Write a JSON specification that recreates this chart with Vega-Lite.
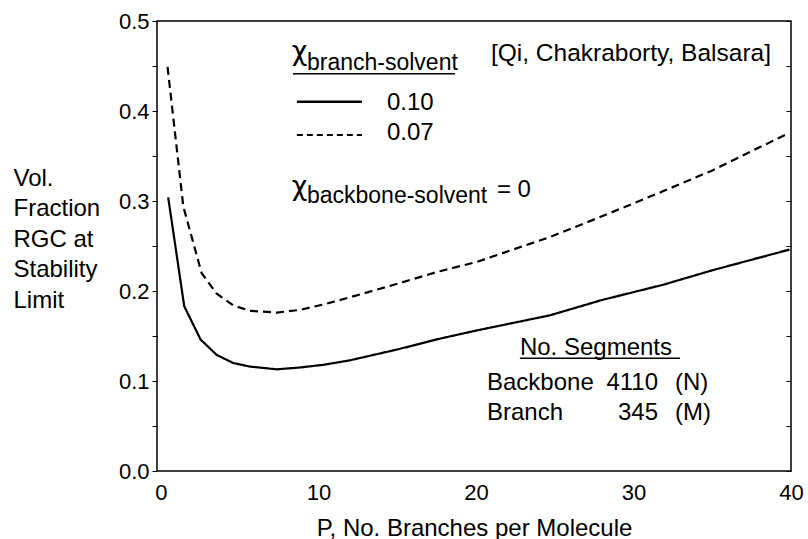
{
  "$schema": "https://vega.github.io/schema/vega-lite/v6.json",
  "autosize": "none",
  "width": 634,
  "height": 450,
  "padding": {"left": 157, "top": 21, "right": 17, "bottom": 68},
  "background": "white",
  "data": {"values": [{}]},
  "datasets": {
    "curves": [
      {"P": 0.46, "v": 0.304, "chi": "0.10"},
      {"P": 1.48, "v": 0.183, "chi": "0.10"},
      {"P": 2.52, "v": 0.146, "chi": "0.10"},
      {"P": 3.54, "v": 0.129, "chi": "0.10"},
      {"P": 4.59, "v": 0.120, "chi": "0.10"},
      {"P": 5.65, "v": 0.116, "chi": "0.10"},
      {"P": 7.35, "v": 0.113, "chi": "0.10"},
      {"P": 8.83, "v": 0.115, "chi": "0.10"},
      {"P": 10.3, "v": 0.118, "chi": "0.10"},
      {"P": 12.0, "v": 0.123, "chi": "0.10"},
      {"P": 15.0, "v": 0.135, "chi": "0.10"},
      {"P": 17.7, "v": 0.147, "chi": "0.10"},
      {"P": 20.0, "v": 0.156, "chi": "0.10"},
      {"P": 24.7, "v": 0.173, "chi": "0.10"},
      {"P": 28.0, "v": 0.190, "chi": "0.10"},
      {"P": 31.9, "v": 0.207, "chi": "0.10"},
      {"P": 35.0, "v": 0.223, "chi": "0.10"},
      {"P": 39.9, "v": 0.246, "chi": "0.10"},
      {"P": 0.42, "v": 0.449, "chi": "0.07"},
      {"P": 1.42, "v": 0.294, "chi": "0.07"},
      {"P": 2.58, "v": 0.220, "chi": "0.07"},
      {"P": 3.54, "v": 0.197, "chi": "0.07"},
      {"P": 4.59, "v": 0.184, "chi": "0.07"},
      {"P": 5.65, "v": 0.178, "chi": "0.07"},
      {"P": 7.35, "v": 0.176, "chi": "0.07"},
      {"P": 8.83, "v": 0.179, "chi": "0.07"},
      {"P": 10.3, "v": 0.185, "chi": "0.07"},
      {"P": 12.0, "v": 0.193, "chi": "0.07"},
      {"P": 15.0, "v": 0.208, "chi": "0.07"},
      {"P": 17.7, "v": 0.222, "chi": "0.07"},
      {"P": 20.0, "v": 0.232, "chi": "0.07"},
      {"P": 24.7, "v": 0.260, "chi": "0.07"},
      {"P": 28.0, "v": 0.283, "chi": "0.07"},
      {"P": 31.9, "v": 0.311, "chi": "0.07"},
      {"P": 35.0, "v": 0.334, "chi": "0.07"},
      {"P": 39.8, "v": 0.375, "chi": "0.07"}
    ]
  },
  "config": {
    "view": {"stroke": "black", "strokeWidth": 1.5},
    "font": "Liberation Sans, Arial, Helvetica, sans-serif",
    "axis": {"labelColor": "black", "titleColor": "black", "tickColor": "black", "labelFont": "Liberation Sans, Arial, sans-serif", "titleFont": "Liberation Sans, Arial, sans-serif", "titleFontWeight": "normal", "grid": false, "domain": false},
    "text": {"font": "Liberation Sans, Arial, sans-serif", "fontSize": 24, "color": "black", "align": "left", "baseline": "alphabetic"},
    "rule": {"color": "black"}
  },
  "resolve": {"axis": {"y": "independent"}},
  "layer": [
    {
      "data": {"name": "curves"},
      "mark": {"type": "line", "color": "black", "strokeWidth": 2.2},
      "encoding": {
        "x": {"field": "P", "type": "quantitative", "scale": {"domain": [-0.25, 40], "nice": false, "zero": false},
          "axis": {"values": [0, 10, 20, 30, 40], "ticks": false, "tickSize": 0, "labelPadding": 11, "labelFontSize": 22, "labelFlush": false, "title": "P, No. Branches per Molecule", "titleFontSize": 24, "titleBaseline": "alphabetic", "titleY": 64}},
        "y": {"field": "v", "type": "quantitative", "scale": {"domain": [0, 0.5], "nice": false},
          "axis": {"orient": "left", "values": [0, 0.05, 0.1, 0.15, 0.2, 0.25, 0.3, 0.35, 0.4, 0.45, 0.5], "labelExpr": "round(datum.value*100) % 10 == 0 ? format(datum.value, '.1f') : ''", "tickSize": 5, "labelPadding": 3, "labelFontSize": 22, "labelFlush": false,
            "title": ["Vol.", "Fraction", "RGC at", "Stability", "Limit"], "titleFontSize": 24, "titleAngle": 0, "titleAlign": "left", "titleBaseline": "top", "titleX": -144, "titleY": 145, "titleLineHeight": 30.5}},
        "strokeDash": {"field": "chi", "type": "nominal", "scale": {"domain": ["0.10", "0.07"], "range": [[1, 0], [8, 5]]}, "legend": null}
      }
    },
    {
      "data": {"name": "curves"},
      "mark": {"type": "point", "opacity": 0},
      "encoding": {
        "x": {"field": "P", "type": "quantitative"},
        "y": {"field": "v", "type": "quantitative", "axis": {"orient": "right", "values": [0, 0.05, 0.1, 0.15, 0.2, 0.25, 0.3, 0.35, 0.4, 0.45, 0.5], "labels": false, "ticks": true, "tickSize": 5, "offset": -5, "tickColor": "black", "title": null}}
      }
    },
    {
      "mark": {"type": "rule", "strokeWidth": 2.4},
      "encoding": {
        "x": {"datum": 8.63, "type": "quantitative"},
        "x2": {"datum": 12.76},
        "y": {"datum": 0.4103, "type": "quantitative", "axis": null}
      }
    },
    {
      "mark": {"type": "rule", "strokeWidth": 2, "strokeDash": [6, 4]},
      "encoding": {
        "x": {"datum": 8.63, "type": "quantitative"},
        "x2": {"datum": 12.76},
        "y": {"datum": 0.3733, "type": "quantitative", "axis": null}
      }
    },
    {
      "mark": {"type": "rule", "strokeWidth": 1.5},
      "encoding": {
        "x": {"datum": 8.38, "type": "quantitative"},
        "x2": {"datum": 18.67},
        "y": {"datum": 0.4414, "type": "quantitative", "axis": null}
      }
    },
    {
      "mark": {"type": "rule", "strokeWidth": 1.5},
      "encoding": {
        "x": {"datum": 22.79, "type": "quantitative"},
        "x2": {"datum": 32.95},
        "y": {"datum": 0.1252, "type": "quantitative", "axis": null}
      }
    },
    {"mark": {"type": "text", "text": "[Qi, Chakraborty, Balsara]", "fontSize": 24.5}, "encoding": {"x": {"datum": 20.95, "type": "quantitative"}, "y": {"datum": 0.4556, "type": "quantitative", "axis": null}}},
    {"mark": {"type": "text", "text": "χ", "fontSize": 27, "font": "DejaVu Sans"}, "encoding": {"x": {"datum": 8.3, "type": "quantitative"}, "y": {"datum": 0.4566, "type": "quantitative", "axis": null}}},
    {"mark": {"type": "text", "text": "branch-solvent", "fontSize": 23}, "encoding": {"x": {"datum": 9.27, "type": "quantitative"}, "y": {"datum": 0.4456, "type": "quantitative", "axis": null}}},
    {"mark": {"type": "text", "text": "0.10"}, "encoding": {"x": {"datum": 14.35, "type": "quantitative"}, "y": {"datum": 0.4011, "type": "quantitative", "axis": null}}},
    {"mark": {"type": "text", "text": "0.07"}, "encoding": {"x": {"datum": 14.35, "type": "quantitative"}, "y": {"datum": 0.3678, "type": "quantitative", "axis": null}}},
    {"mark": {"type": "text", "text": "χ", "fontSize": 27, "font": "DejaVu Sans"}, "encoding": {"x": {"datum": 8.3, "type": "quantitative"}, "y": {"datum": 0.3069, "type": "quantitative", "axis": null}}},
    {"mark": {"type": "text", "text": "backbone-solvent", "fontSize": 23}, "encoding": {"x": {"datum": 9.27, "type": "quantitative"}, "y": {"datum": 0.2978, "type": "quantitative", "axis": null}}},
    {"mark": {"type": "text", "text": "= 0"}, "encoding": {"x": {"datum": 21.33, "type": "quantitative"}, "y": {"datum": 0.3044, "type": "quantitative", "axis": null}}},
    {"mark": {"type": "text", "text": "No. Segments"}, "encoding": {"x": {"datum": 22.79, "type": "quantitative"}, "y": {"datum": 0.1289, "type": "quantitative", "axis": null}}},
    {"mark": {"type": "text", "text": "Backbone"}, "encoding": {"x": {"datum": 20.7, "type": "quantitative"}, "y": {"datum": 0.09, "type": "quantitative", "axis": null}}},
    {"mark": {"type": "text", "text": "4110", "align": "right"}, "encoding": {"x": {"datum": 31.56, "type": "quantitative"}, "y": {"datum": 0.09, "type": "quantitative", "axis": null}}},
    {"mark": {"type": "text", "text": "(N)"}, "encoding": {"x": {"datum": 32.63, "type": "quantitative"}, "y": {"datum": 0.09, "type": "quantitative", "axis": null}}},
    {"mark": {"type": "text", "text": "Branch"}, "encoding": {"x": {"datum": 20.7, "type": "quantitative"}, "y": {"datum": 0.0567, "type": "quantitative", "axis": null}}},
    {"mark": {"type": "text", "text": "345", "align": "right"}, "encoding": {"x": {"datum": 31.56, "type": "quantitative"}, "y": {"datum": 0.0567, "type": "quantitative", "axis": null}}},
    {"mark": {"type": "text", "text": "(M)"}, "encoding": {"x": {"datum": 32.63, "type": "quantitative"}, "y": {"datum": 0.0567, "type": "quantitative", "axis": null}}}
  ]
}
